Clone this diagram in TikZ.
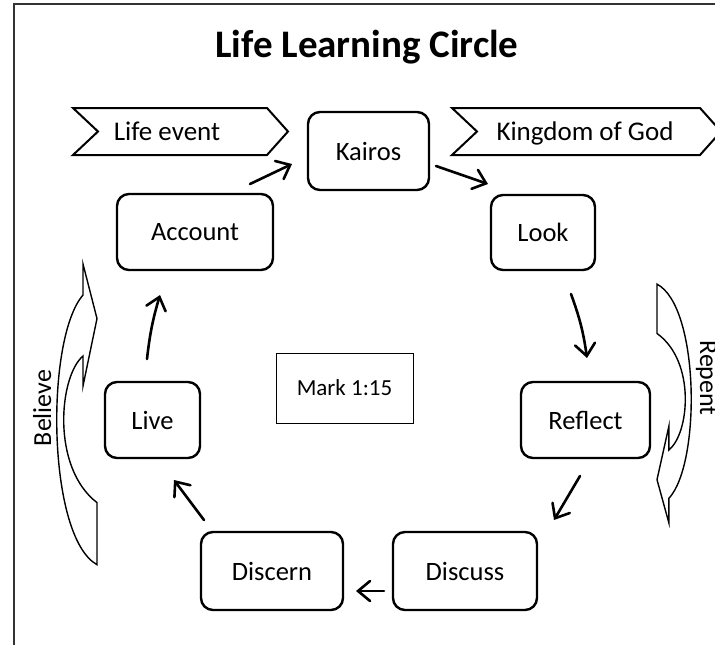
\documentclass[tikz,border=0pt]{standalone}
\usepackage{fontspec}
\setmainfont{Carlito}
\usetikzlibrary{arrows.meta}
\begin{document}
\begin{tikzpicture}[x=1pt,y=-1pt,
  stage/.style={draw=black, line width=2.4pt, rounded corners=12pt, inner sep=0pt, font=\fontsize{26.5}{30}\selectfont},
  plainbox/.style={draw=black, line width=1pt, inner sep=0pt, font=\fontsize{23}{27}\selectfont},
  banner/.style={draw=black, line width=2pt, line join=miter},
  bannertext/.style={font=\fontsize{27}{30}\selectfont, inner sep=0pt, anchor=base},
  flow/.style={line width=2.6pt, line cap=round, -{Straight Barb[length=12pt,width=20pt,line cap=round]}},
  curvearrow/.style={draw=black, line width=1.4pt, fill=white, line join=miter},
  sidetext/.style={font=\fontsize{26}{30}\selectfont, inner sep=0pt}
]
\useasboundingbox (0,0) rectangle (715,645);
\draw[line width=1.5pt, draw=black!80] (14,650) -- (14,4) -- (720,4);
\node[font=\bfseries\fontsize{39}{43}\selectfont, anchor=base, inner sep=0pt] (title) at (367,57) {Life Learning Circle};

% banners
\draw[banner] (73,108) -- (267,108) -- (288,131.5) -- (267,155) -- (73,155) -- (98,131.5) -- cycle;
\node[bannertext] (lifeevent) at (167,140) {Life event};
\draw[banner] (452,108) -- (700,108) -- (721,131.5) -- (700,155) -- (452,155) -- (477,131.5) -- cycle;
\node[bannertext] (kingdom) at (585,140) {Kingdom of God};

% stages
\node[stage, minimum width=121pt, minimum height=78pt] (kairos) at (368.5,151) {Kairos};
\node[stage, minimum width=156pt, minimum height=76pt] (account) at (195,232) {Account};
\node[stage, minimum width=104pt, minimum height=75pt] (look) at (543,232.5) {Look};
\node[plainbox, minimum width=137pt, minimum height=70pt] (mark) at (344.5,388) {Mark 1:15};
\node[stage, minimum width=95pt, minimum height=76pt] (live) at (152.5,420) {Live};
\node[stage, minimum width=129pt, minimum height=76pt] (reflect) at (585.5,420) {Reflect};
\node[stage, minimum width=142pt, minimum height=78pt] (discern) at (272,571) {Discern};
\node[stage, minimum width=144pt, minimum height=78pt] (discuss) at (465,571) {Discuss};

% arrow ends
\coordinate (a1) at (250,184); \coordinate (a2) at (292,164);
\coordinate (b1) at (436,166); \coordinate (b2) at (488,184);
\coordinate (c1) at (571,294); \coordinate (c2) at (587,358);
\coordinate (d1) at (580,476); \coordinate (d2) at (554,520);
\coordinate (e1) at (384,591); \coordinate (e2) at (356,591);
\coordinate (f1) at (204,520); \coordinate (f2) at (174,480);
\coordinate (g1) at (147,359); \coordinate (g2) at (160,295);

\draw[flow] (a1) -- (a2);
\draw[flow] (b1) -- (b2);
\draw[flow] (c1) to[bend left=6] (c2);
\draw[flow] (d1) -- (d2);
\draw[flow] (e1) -- (e2);
\draw[flow] (f1) -- (f2);
\draw[flow] (g1) to[bend left=5] (g2);

% curved side arrows
\begin{scope}[shift={(57,264)}, yscale=1.07]
  \draw[curvearrow] (26,0) -- (40,51) -- (26,114) -- (26,86) .. controls (2,105) and (-6,190) .. (40,223) -- (40,281) .. controls (-10,255) and (-12,70) .. (26,29) -- cycle;
\end{scope}
\begin{scope}[shift={(691,523)}, scale=0.85, rotate=180]
  \draw[curvearrow] (26,0) -- (40,51) -- (26,114) -- (26,86) .. controls (2,105) and (-6,190) .. (40,223) -- (40,281) .. controls (-10,255) and (-12,70) .. (26,29) -- cycle;
\end{scope}
\node[sidetext, rotate=90, anchor=base] (believe) at (51,408) {Believe};
\node[sidetext, rotate=-90, anchor=base] (repent) at (700,378) {Repent};
\end{tikzpicture}
\end{document}
